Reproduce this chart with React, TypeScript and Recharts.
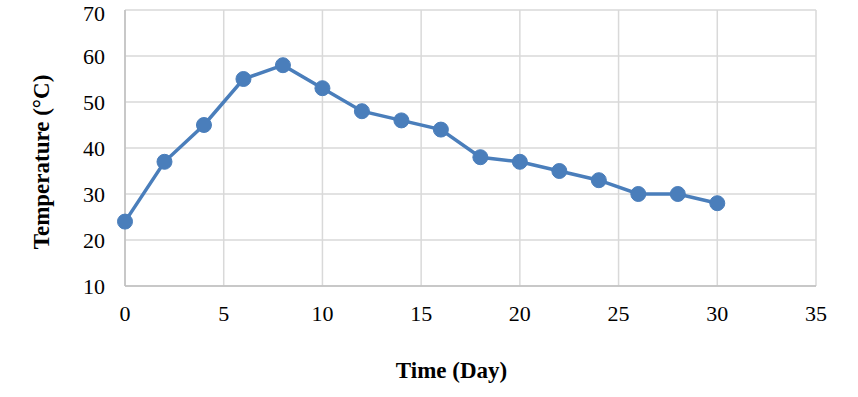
import React from 'react';
import { LineChart, Line, XAxis, YAxis, CartesianGrid, Label } from 'recharts';

const days = [0, 2, 4, 6, 8, 10, 12, 14, 16, 18, 20, 22, 24, 26, 28, 30];
const temps = [24, 37, 45, 55, 58, 53, 48, 46, 44, 38, 37, 35, 33, 30, 30, 28];
const xTicks = [0, 5, 10, 15, 20, 25, 30, 35];
const yTicks = [10, 20, 30, 40, 50, 60, 70];

const data = days.map((d, i) => ({ day: d, temp: temps[i] }));

const font = '"Liberation Serif", "Times New Roman", serif';

export default function App() {
  return (
    <div style={{ position: 'absolute', left: 0, top: 0, background: '#fff' }}>
      <LineChart width={858} height={397} data={data} margin={{ top: 10, right: 42, bottom: 0, left: 0 }}>
        <CartesianGrid stroke="#D9D9D9" strokeWidth={1.5} />
        <XAxis
          dataKey="day"
          type="number"
          domain={[0, 35]}
          ticks={xTicks}
          height={111}
          tickLine={false}
          tickMargin={13}
          axisLine={{ stroke: '#BFBFBF', strokeWidth: 1.5 }}
          tick={{ fill: '#000', fontSize: 22, fontFamily: font }}
        >
          <Label
            value="Time (Day)"
            position="insideBottom"
            offset={19}
            dx={-19}
            style={{ fill: '#000', fontSize: 23, fontWeight: 'bold', fontFamily: font }}
          />
        </XAxis>
        <YAxis
          type="number"
          domain={[10, 70]}
          ticks={yTicks}
          width={125}
          tickLine={false}
          tickMargin={14}
          axisLine={{ stroke: '#BFBFBF', strokeWidth: 1.5 }}
          tick={{ fill: '#000', fontSize: 22, fontFamily: font }}
        >
          <Label
            value="Temperature (°C)"
            angle={-90}
            position="center"
            dx={-22}
            dy={14}
            style={{ fill: '#000', fontSize: 23, fontWeight: 'bold', fontFamily: font, textAnchor: 'middle' }}
          />
        </YAxis>
        <Line
          dataKey="temp"
          stroke="#4A7EBB"
          strokeWidth={3.5}
          dot={{ r: 7.5, fill: '#4A7EBB', stroke: '#4A7EBB', strokeWidth: 1 }}
          isAnimationActive={false}
        />
      </LineChart>
    </div>
  );
}
